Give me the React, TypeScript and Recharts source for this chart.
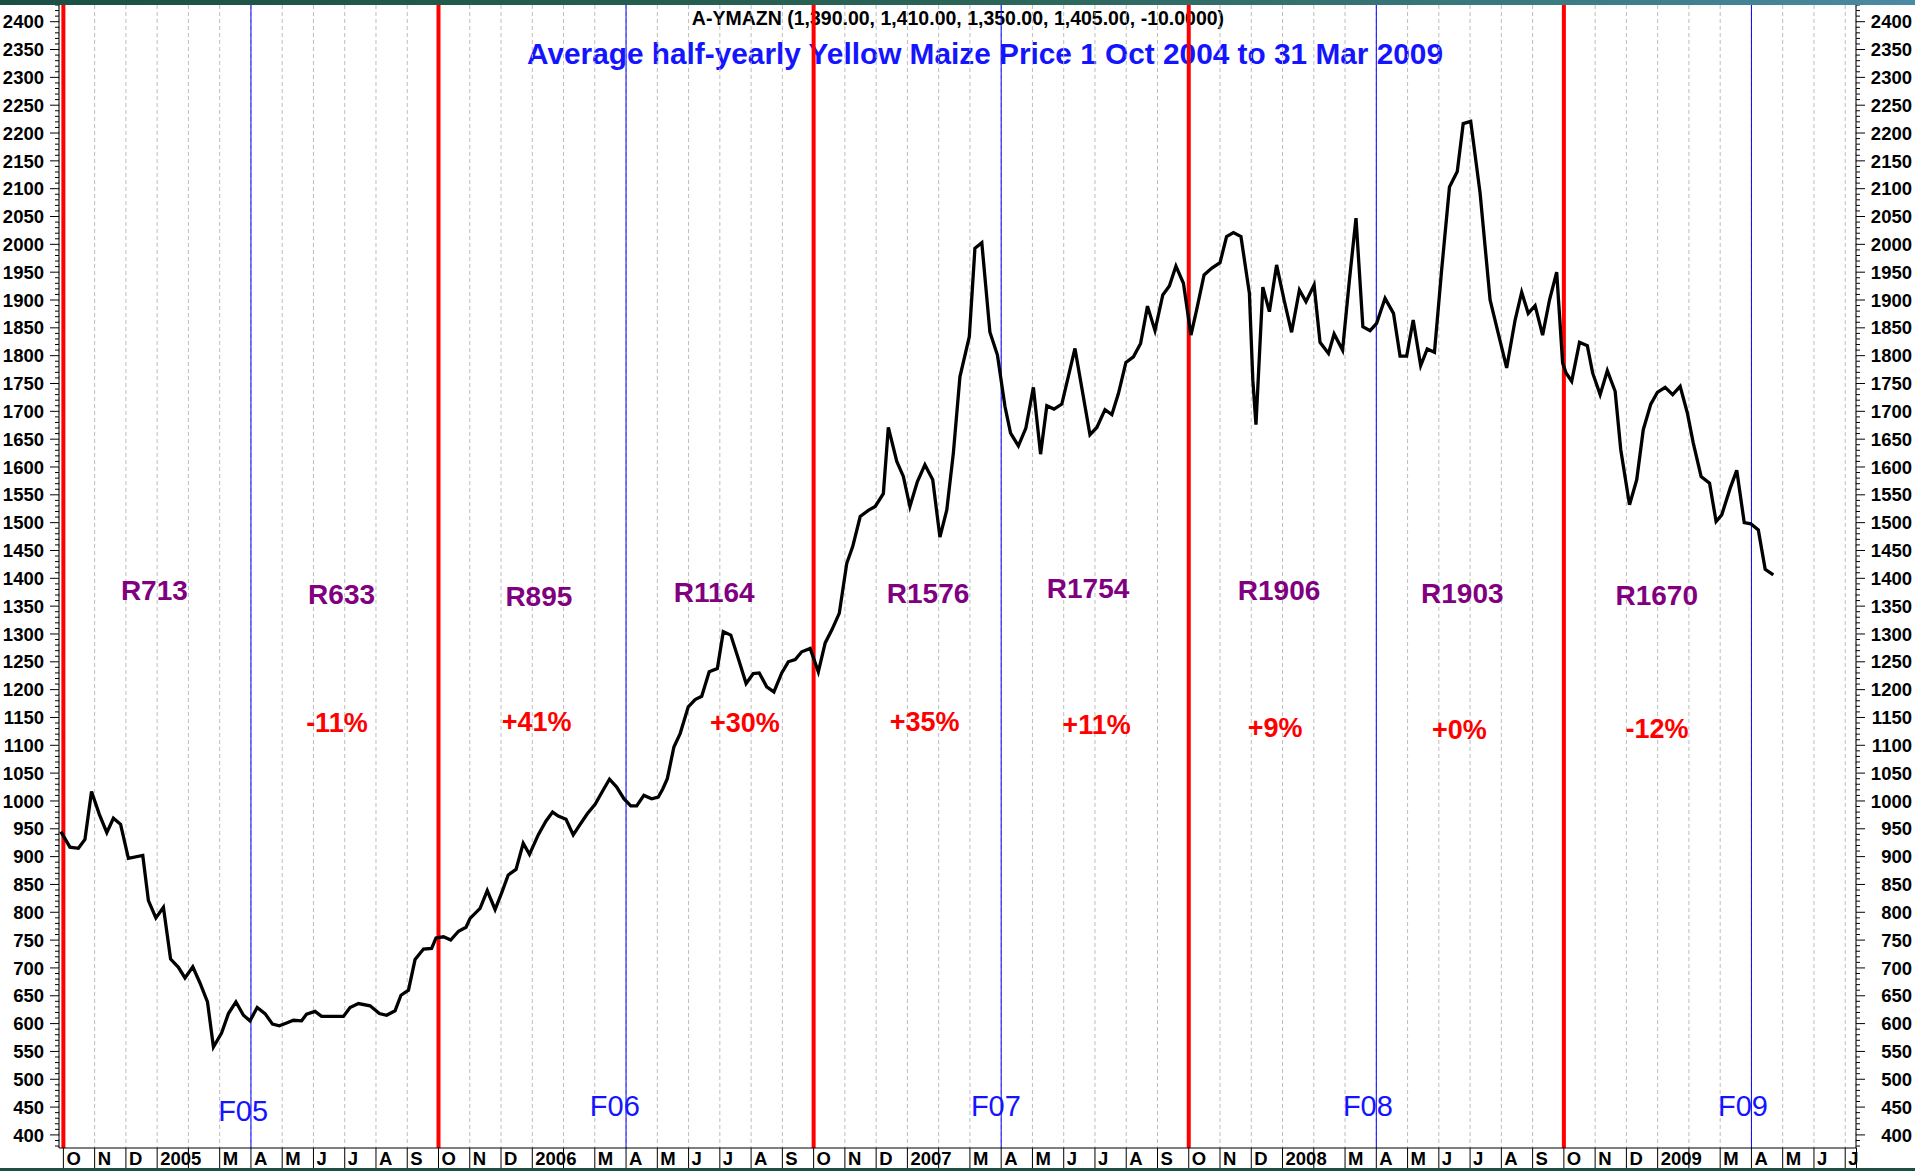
import React from 'react';
import {
  ComposedChart,
  Line,
  Scatter,
  XAxis,
  YAxis,
  CartesianGrid,
  ReferenceLine,
} from 'recharts';

// ---------- DATA ----------
// Position of each weekly observation, in months since 1 Oct 2004
const weekMonths = [
  -0.08, 0.21, 0.48, 0.69, 0.9, 1.15, 1.39, 1.6, 1.83, 2.08, 2.54, 2.72, 2.96, 3.2, 3.43, 3.68, 3.89, 4.14,
  4.37, 4.61, 4.8, 5.06, 5.28, 5.52, 5.76, 5.97, 6.2, 6.45, 6.69, 6.91, 7.14, 7.36, 7.62, 7.78, 8.05, 8.26,
  8.96, 9.17, 9.44, 9.81, 10.11, 10.34, 10.61, 10.8, 11.04, 11.25, 11.52, 11.78, 11.92, 12.16, 12.39, 12.64,
  12.88, 13.01, 13.33, 13.56, 13.81, 14.02, 14.23, 14.48, 14.71, 14.91, 15.19, 15.44, 15.65, 15.83, 16.08,
  16.31, 16.53, 16.76, 17.01, 17.25, 17.47, 17.7, 17.93, 18.15, 18.34, 18.57, 18.82, 19.03, 19.17, 19.32,
  19.53, 19.73, 19.99, 20.21, 20.42, 20.66, 20.92, 21.11, 21.35, 21.59, 21.84, 22.07, 22.26, 22.5, 22.73,
  22.98, 23.19, 23.41, 23.62, 23.89, 24.15, 24.37, 24.58, 24.82, 25.06, 25.25, 25.49, 25.75, 25.97, 26.23,
  26.39, 26.66, 26.87, 27.08, 27.32, 27.56, 27.81, 28.04, 28.26, 28.47, 28.68, 28.98, 29.16, 29.38, 29.64,
  29.88, 30.12, 30.3, 30.55, 30.79, 31.03, 31.26, 31.46, 31.69, 31.94, 32.36, 32.84, 33.06, 33.32, 33.54,
  33.75, 33.99, 34.23, 34.46, 34.68, 34.92, 35.17, 35.38, 35.59, 35.83, 36.07, 36.25, 36.49, 36.73, 37.0,
  37.21, 37.43, 37.67, 37.94, 38.05, 38.15, 38.37, 38.58, 38.81, 39.05, 39.29, 39.54, 39.75, 40.01, 40.2,
  40.47, 40.65, 40.92, 41.14, 41.35, 41.57, 41.8, 42.01, 42.28, 42.55, 42.76, 42.97, 43.18, 43.42, 43.63,
  43.86, 44.09, 44.34, 44.59, 44.78, 45.02, 45.32, 45.64, 45.77, 46.17, 46.44, 46.65, 46.86, 47.08, 47.32,
  47.54, 47.77, 47.96, 48.07, 48.25, 48.5, 48.75, 48.92, 49.16, 49.39, 49.64, 49.82, 50.1, 50.33, 50.54,
  50.78, 50.99, 51.24, 51.48, 51.72, 51.95, 52.14, 52.39, 52.66, 52.87, 53.05, 53.32, 53.53, 53.77, 53.98,
  54.22, 54.44, 54.7,
];

// Yellow maize price (R/ton)
const prices = [
  945, 917, 915, 931, 1017, 976, 943, 969, 958, 897, 902, 821, 790, 809, 716, 701, 682, 702,
  673, 639, 558, 583, 618, 639, 615, 605, 629, 618, 599, 596, 601, 606, 605, 617, 622, 613,
  613, 629, 636, 632, 618, 615, 623, 651, 660, 715, 734, 735, 754, 756, 750, 766,
  773, 789, 807, 839, 805, 835, 867, 877, 924, 904, 939, 964, 980, 973, 967,
  939, 958, 977, 994, 1018, 1039, 1025, 1004, 991, 991, 1010, 1004, 1007, 1021, 1040,
  1097, 1121, 1169, 1182, 1188, 1232, 1238, 1304, 1298, 1256, 1211, 1229, 1230, 1205, 1196,
  1230, 1250, 1254, 1268, 1274, 1232, 1284, 1307, 1337, 1427, 1457, 1511, 1522, 1529, 1552,
  1671, 1610, 1583, 1529, 1574, 1604, 1577, 1474, 1523, 1625, 1762, 1834, 1993, 2003, 1842,
  1801, 1709, 1661, 1638, 1670, 1743, 1623, 1710, 1704, 1713, 1813, 1658, 1671, 1703, 1694,
  1732, 1788, 1798, 1822, 1889, 1845, 1909, 1925, 1961, 1930, 1837, 1882, 1945, 1957, 1967,
  2014, 2021, 2014, 1912, 1756, 1676, 1923, 1879, 1963, 1900, 1842, 1918, 1897, 1927, 1824,
  1804, 1839, 1810, 1936, 2047, 1852, 1845, 1858, 1903, 1876, 1799, 1799, 1864, 1782, 1812,
  1806, 1954, 2103, 2131, 2217, 2221, 2092, 1900, 1870, 1778, 1864, 1914, 1876, 1890, 1837,
  1900, 1950, 1787, 1769, 1754, 1824, 1818, 1769, 1730, 1773, 1736, 1631, 1532, 1577, 1667,
  1713, 1734, 1743, 1730, 1745, 1697, 1643, 1583, 1571, 1502, 1514, 1562, 1594, 1500, 1498,
  1487, 1416, 1406,
];

// Half-year average labels
const periodLabels = ['R713', 'R633', 'R895', 'R1164', 'R1576', 'R1754', 'R1906', 'R1903', 'R1670'];
const periodLabelMonths = [2.91, 8.9, 15.21, 20.82, 27.66, 32.78, 38.89, 44.75, 50.97];
const periodLabelLevels = [1379, 1372, 1369, 1376, 1373, 1383, 1379, 1374, 1371];

const changeLabels = ['-11%', '+41%', '+30%', '+35%', '+11%', '+9%', '+0%', '-12%'];
const changeLabelMonths = [8.75, 15.14, 21.8, 27.55, 33.05, 38.76, 44.66, 50.98];
const changeLabelLevels = [1142, 1143, 1141, 1144, 1138, 1133, 1129, 1131];

// 1 October of each year (half-year boundaries) and 1 April (financial years)
const octoberStarts = [0, 12, 24, 36, 48];
const aprilStarts = [6, 18, 30, 42, 54];
const fiscalLabels = ['F05', 'F06', 'F07', 'F08', 'F09'];
const fiscalLabelMonths = [5.75, 17.64, 29.83, 41.73, 53.73];
const fiscalLabelLevels = [443, 452, 452, 452, 452];

const MONTH_LETTERS = ['J', 'F', 'M', 'A', 'M', 'J', 'J', 'A', 'S', 'O', 'N', 'D'];
const FIRST_YEAR = 2004;
const FIRST_MONTH = 9; // October
const monthTicks = Array.from({ length: 58 }, (_, i) => i);
const priceTicks = Array.from({ length: 206 }, (_, i) => 380 + i * 10);

const X_DOMAIN: [number, number] = [-0.14, 57.345];
const Y_DOMAIN: [number, number] = [376.5, 2430];

const TITLE_TOP = 'A-YMAZN (1,390.00, 1,410.00, 1,350.00, 1,405.00, -10.0000)';
const TITLE_MAIN = 'Average half-yearly Yellow Maize Price 1 Oct 2004 to 31 Mar 2009';

// ---------- LAYOUT ----------
const W = 1915;
const H = 1171;
const AXIS_W = 59;
const XAXIS_H = 20;
const FONT = '"Liberation Sans", Arial, Helvetica, sans-serif';

const priceData = weekMonths.map((m, i) => ({ m, v: prices[i] }));
const periodData = periodLabels.map((label, i) => ({ m: periodLabelMonths[i], v: periodLabelLevels[i], label }));
const changeData = changeLabels.map((label, i) => ({ m: changeLabelMonths[i], v: changeLabelLevels[i], label }));
const fiscalData = fiscalLabels.map((label, i) => ({ m: fiscalLabelMonths[i], v: fiscalLabelLevels[i], label }));

function monthLabel(i: number): string {
  const cm = (FIRST_MONTH + i) % 12;
  const yr = FIRST_YEAR + Math.floor((FIRST_MONTH + i) / 12);
  if (cm === 0) return String(yr);
  if (cm === 1) return '';
  return MONTH_LETTERS[cm];
}

const XTick = (props: any) => {
  const { x, y, payload } = props;
  const label = monthLabel(payload.value);
  return (
    <g>
      <line x1={x} x2={x} y1={y} y2={y + XAXIS_H} stroke="#000" strokeWidth={1} />
      {label ? (
        <text x={x + 3} y={y + 17} fontFamily={FONT} fontWeight="bold" fontSize={18.5} fill="#000">
          {label}
        </text>
      ) : null}
    </g>
  );
};

const makeYTick = (side: 'left' | 'right') => (props: any) => {
  const { x, y, payload } = props;
  const v = payload.value;
  const major = v % 50 === 0;
  const len = major ? 9 : 4;
  const dir = side === 'left' ? -1 : 1;
  return (
    <g>
      <line x1={x} x2={x + dir * len} y1={y} y2={y} stroke="#000" strokeWidth={1} />
      {major && v >= 400 && v <= 2400 ? (
        <text
          x={side === 'left' ? x - 15 : x + 56}
          y={y}
          dy="0.36em"
          textAnchor="end"
          fontFamily={FONT}
          fontWeight="bold"
          fontSize={18.5}
          fill="#000"
        >
          {v}
        </text>
      ) : null}
    </g>
  );
};

const makeTextShape = (color: string, size: number, weight: string) => (props: any) => {
  const { cx, cy, payload } = props;
  if (cx == null || cy == null) return <g />;
  return (
    <text
      x={cx}
      y={cy}
      dy="0.36em"
      textAnchor="middle"
      fontFamily={FONT}
      fontSize={size}
      fontWeight={weight}
      fill={color}
    >
      {payload.label}
    </text>
  );
};

const LeftTick = makeYTick('left');
const RightTick = makeYTick('right');
const periodShape = makeTextShape('#800080', 28, 'bold');
const changeShape = makeTextShape('#ff0000', 27, 'bold');
const fiscalShape = makeTextShape('#1414ff', 29, 'normal');

export default function App() {
  return (
    <div
      style={{
        position: 'absolute',
        left: 0,
        top: 0,
        width: W,
        height: H,
        background: '#ffffff',
        overflow: 'hidden',
      }}
    >
      {/* titles (beneath the chart lines) */}
      <svg width={W} height={H} style={{ position: 'absolute', left: 0, top: 0 }}>
        <text x={958} y={24.5} textAnchor="middle" fontFamily={FONT} fontWeight="bold" fontSize={19.5} fill="#000">
          {TITLE_TOP}
        </text>
        <text x={985} y={64} textAnchor="middle" fontFamily={FONT} fontWeight="bold" fontSize={29.8} fill="#1414ff">
          {TITLE_MAIN}
        </text>
      </svg>
      <div style={{ position: 'absolute', left: 0, top: 0 }}>
        <ComposedChart width={W} height={H} margin={{ top: 5, right: 0, bottom: 3, left: 0 }}>
          <CartesianGrid vertical={true} horizontal={false} stroke="#bdbdbd" strokeDasharray="4 3" />
          <XAxis
            dataKey="m"
            type="number"
            domain={X_DOMAIN}
            allowDataOverflow
            ticks={monthTicks}
            interval={0}
            height={XAXIS_H}
            tickSize={0}
            tickMargin={0}
            tick={<XTick />}
            axisLine={{ stroke: '#000', strokeWidth: 1 }}
            tickLine={false}
          />
          <YAxis
            yAxisId="left"
            orientation="left"
            type="number"
            domain={Y_DOMAIN}
            allowDataOverflow
            ticks={priceTicks}
            interval={0}
            width={AXIS_W}
            tickSize={0}
            tickMargin={0}
            tick={<LeftTick />}
            axisLine={{ stroke: '#000', strokeWidth: 1 }}
            tickLine={false}
          />
          <YAxis
            yAxisId="right"
            orientation="right"
            type="number"
            domain={Y_DOMAIN}
            allowDataOverflow
            ticks={priceTicks}
            interval={0}
            width={AXIS_W}
            tickSize={0}
            tickMargin={0}
            tick={<RightTick />}
            axisLine={{ stroke: '#000', strokeWidth: 1 }}
            tickLine={false}
          />
          <Scatter yAxisId="left" data={periodData} dataKey="v" shape={periodShape} isAnimationActive={false} />
          <Scatter yAxisId="left" data={changeData} dataKey="v" shape={changeShape} isAnimationActive={false} />
          <Scatter yAxisId="left" data={fiscalData} dataKey="v" shape={fiscalShape} isAnimationActive={false} />
          {aprilStarts.map((m) => (
            <ReferenceLine key={'a' + m} yAxisId="left" x={m} stroke="#0000ff" strokeWidth={1} />
          ))}
          {octoberStarts.map((m) => (
            <ReferenceLine key={'o' + m} yAxisId="left" x={m} stroke="#ff0000" strokeWidth={4} />
          ))}
          <Line
            yAxisId="left"
            data={priceData}
            dataKey="v"
            type="linear"
            stroke="#000"
            strokeWidth={3.3}
            dot={false}
            activeDot={false}
            isAnimationActive={false}
          />
        </ComposedChart>
      </div>
      {/* frame bars on top */}
      <svg width={W} height={H} style={{ position: 'absolute', left: 0, top: 0, pointerEvents: 'none' }}>
        <defs>
          <linearGradient id="frameGrad" x1="0" y1="0" x2="1" y2="0">
            <stop offset="0" stopColor="#1a5043" />
            <stop offset="0.5" stopColor="#2a6456" />
            <stop offset="0.8" stopColor="#3a7a80" />
            <stop offset="1" stopColor="#4b8aa3" />
          </linearGradient>
        </defs>
        <rect x={0} y={0} width={W} height={5} fill="url(#frameGrad)" />
        <rect x={0} y={H - 3} width={W} height={3} fill="#1d4f44" />
        <line x1={W - AXIS_W + 0.5} x2={W - AXIS_W + 0.5} y1={H - 3 - XAXIS_H} y2={H - 3} stroke="#000" strokeWidth={1} />
      </svg>
    </div>
  );
}
